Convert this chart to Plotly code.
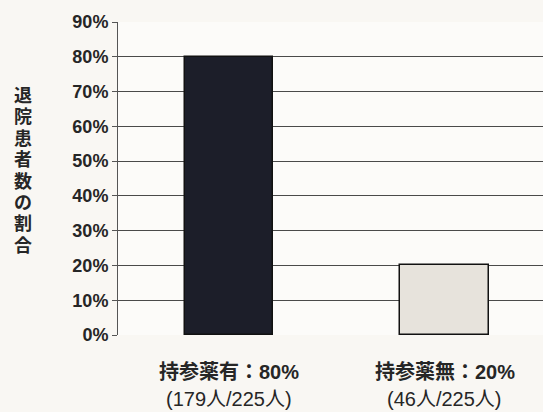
import plotly.graph_objects as go

# Share of discharged patients, with / without brought-in medicines
categories = ["持参薬有", "持参薬無"]
shares = [80, 20]
patients = [179, 46]
total = 225
bar_colors = ["#1c1e29", "#e7e3dc"]
y_ticks = [0, 10, 20, 30, 40, 50, 60, 70, 80, 90]
y_title = "退院患者数の割合"

latin_cjk = "Liberation Sans, Arial, Noto Sans CJK JP"
text_color = "#262626"

fig = go.Figure()
fig.add_trace(go.Bar(
    x=[0, 1],
    y=shares,
    width=0.41,
    marker=dict(color=bar_colors, line=dict(color="#111111", width=1.5)),
    hoverinfo="skip",
))

# Two-line category labels below the axis
for i, (cat, s, n) in enumerate(zip(categories, shares, patients)):
    fig.add_annotation(x=i, xref="x", y=-0.118, yref="paper",
                       text=f"{cat}：{s}%", showarrow=False,
                       font=dict(family=latin_cjk, size=20, color=text_color,
                                 weight="bold"),
                       yanchor="middle")
    fig.add_annotation(x=i, xref="x", y=-0.205, yref="paper",
                       text=f"({n}人/{total}人)", showarrow=False,
                       font=dict(family=latin_cjk, size=20, color=text_color),
                       yanchor="middle")

# Vertical axis title, one character per row
plot_h = 412 - 22 - 77
for k, ch in enumerate(y_title):
    y_px = 96 + k * 21.4
    fig.add_annotation(x=(23 - 118) / 425, xref="paper",
                       y=(335 - y_px) / plot_h, yref="paper",
                       text=ch, showarrow=False,
                       font=dict(family=latin_cjk, size=18,
                                 color=text_color, weight="bold"),
                       xanchor="center", yanchor="middle")

fig.update_layout(
    width=543, height=412,
    margin=dict(l=118, r=0, t=22, b=77),
    paper_bgcolor="#f9f7f3",
    plot_bgcolor="#fcfbf9",
    showlegend=False,
    bargap=0,
)
fig.update_xaxes(range=[-0.515, 1.457], showticklabels=False, showgrid=False,
                 zeroline=False, showline=False, ticks="")
fig.update_yaxes(range=[0, 90], tickvals=y_ticks,
                 ticktext=[f"{v}%" for v in y_ticks],
                 showgrid=True, gridcolor="#4a4a4a", gridwidth=1,
                 zeroline=False, showline=True, linecolor="#555555", linewidth=1,
                 ticks="outside", ticklen=5, tickcolor="#555555",
                 tickfont=dict(family=latin_cjk, size=18, color=text_color,
                               weight="bold"))

fig.write_html("out.html")
